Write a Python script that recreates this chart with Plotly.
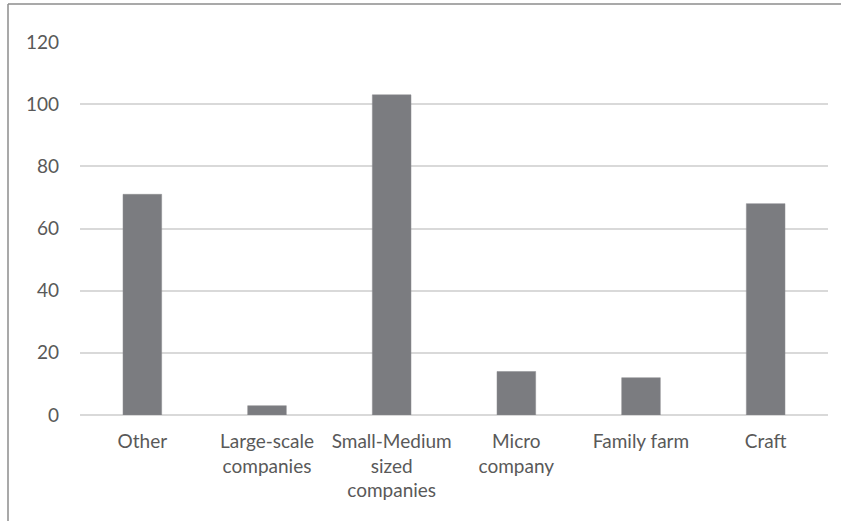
import plotly.graph_objects as go

categories = ["Other", "Large-scale<br>companies", "Small-Medium<br>sized<br>companies",
              "Micro<br>company", "Family farm", "Craft"]
values = [71, 3, 103, 14, 12, 68]
y_ticks = [0, 20, 40, 60, 80, 100, 120]

W, H = 841, 521
L, R, T, B = 80, 13, 42, 106
pw, ph = W - L - R, H - T - B

def px_x(px):
    return (px - L) / pw

def px_y(py):
    return (H - B - py) / ph

FONT = "Lato"
FS = 19

fig = go.Figure(go.Bar(
    x=categories, y=values,
    marker=dict(color="#7b7c80", line=dict(color="#8a8b8e", width=0.5)),
    width=0.31,
))

fig.update_layout(
    width=W, height=H,
    margin=dict(l=L, r=R, t=T, b=B),
    paper_bgcolor="white", plot_bgcolor="white",
    showlegend=False,
    font=dict(family=FONT, size=FS, color="#595959"),
    xaxis=dict(showgrid=False, showline=False, ticks="", ticklabelstandoff=13,
               tickfont=dict(family=FONT, size=FS, color="#595959")),
    yaxis=dict(range=[0, 120], tickvals=y_ticks, showgrid=True, gridcolor="#d9d9d9",
               gridwidth=1.5, zeroline=True, zerolinecolor="#d9d9d9", zerolinewidth=1.5,
               showline=False, ticks="", ticklabelstandoff=20,
               tickfont=dict(family=FONT, size=FS, color="#595959")),
    shapes=[
        dict(type="line", xref="paper", yref="paper", x0=px_x(8), x1=px_x(8),
             y0=px_y(4), y1=px_y(521), line=dict(color="#8c8c8c", width=1.5)),
        dict(type="line", xref="paper", yref="paper", x0=px_x(8), x1=px_x(841),
             y0=px_y(4), y1=px_y(4), line=dict(color="#8c8c8c", width=1.5)),
    ],
)

fig.write_html("out.html")
